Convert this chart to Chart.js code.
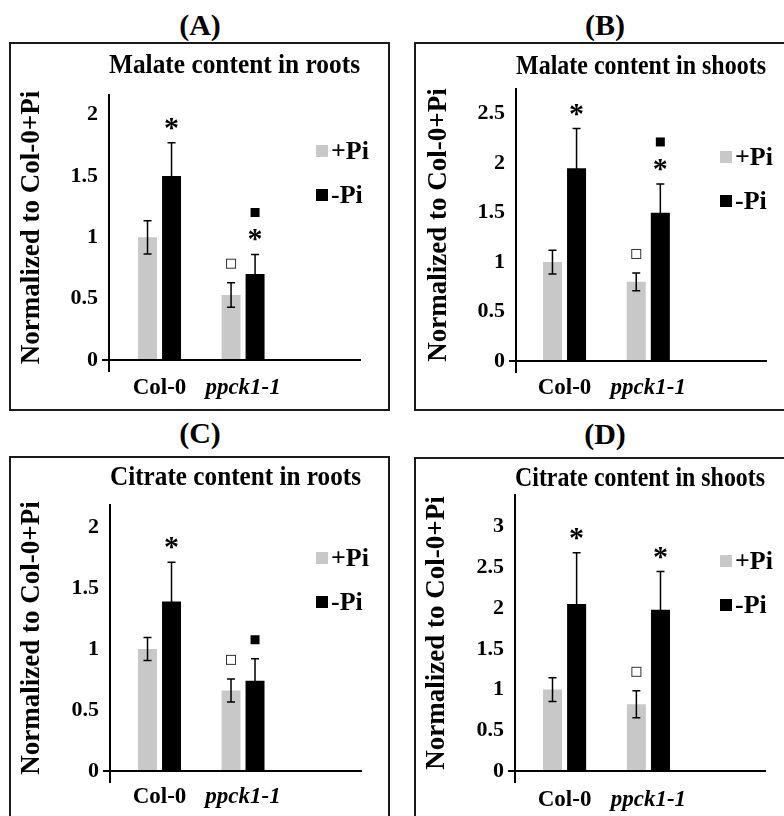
<!DOCTYPE html>
<html>
<head>
<meta charset="utf-8">
<script src="https://cdn.jsdelivr.net/npm/chart.js@4.4.1/dist/chart.umd.min.js"></script>
<style>
body { margin: 0; background: #fff; width: 784px; height: 816px; overflow: hidden; position: relative; font-family: 'Liberation Serif', 'Times New Roman', serif; }
.lbl { position: absolute; width: 120px; text-align: center; font-weight: bold; font-size: 30px; line-height: 30px; color: #000; }
.box { position: absolute; border: 2px solid #1a1a1a; }
canvas { display: block; }
</style>
</head>
<body>
<div class="lbl" style="left:140px;top:10px">(A)</div>
<div class="lbl" style="left:545px;top:10px">(B)</div>
<div class="lbl" style="left:140px;top:418px">(C)</div>
<div class="lbl" style="left:545px;top:419px">(D)</div>
<script>
const categories = ['Col-0', 'ppck1-1'];
const seriesLabels = ['+Pi', '-Pi'];
const yAxisTitle = 'Normalized to Col-0+Pi';
const yTickStep = 0.5;

// (A) malate, roots
const malateRootsPlus = [1.00, 0.53];
const malateRootsPlusErr = [0.135, 0.10];
const malateRootsMinus = [1.50, 0.70];
const malateRootsMinusErr = [0.27, 0.16];
// (B) malate, shoots
const malateShootsPlus = [1.00, 0.80];
const malateShootsPlusErr = [0.12, 0.09];
const malateShootsMinus = [1.95, 1.50];
const malateShootsMinusErr = [0.40, 0.29];
// (C) citrate, roots
const citrateRootsPlus = [1.00, 0.66];
const citrateRootsPlusErr = [0.095, 0.095];
const citrateRootsMinus = [1.39, 0.74];
const citrateRootsMinusErr = [0.32, 0.18];
// (D) citrate, shoots
const citrateShootsPlus = [1.00, 0.82];
const citrateShootsPlusErr = [0.145, 0.165];
const citrateShootsMinus = [2.05, 1.98];
const citrateShootsMinusErr = [0.63, 0.47];

// significance symbols above each bar, listed bottom to top
const malateRootsPlusMarks = [[], ['open']];
const malateRootsMinusMarks = [['star'], ['star', 'filled']];
const malateShootsPlusMarks = [[], ['open']];
const malateShootsMinusMarks = [['star'], ['star', 'filled']];
const citrateRootsPlusMarks = [[], ['open']];
const citrateRootsMinusMarks = [['star'], ['filled']];
const citrateShootsPlusMarks = [[], ['open']];
const citrateShootsMinusMarks = [['star'], ['star']];

const SERIF = "'Liberation Serif', 'Times New Roman', serif";
const plusColor = '#c8c8c8';
const minusColor = '#000000';

const errorBars = {
    id: 'errorBars',
    afterDatasetsDraw(chart) {
        const ctx = chart.ctx;
        const y = chart.scales.y;
        chart.data.datasets.forEach((ds, i) => {
            chart.getDatasetMeta(i).data.forEach((bar, j) => {
                const v = ds.data[j].y, e = ds.errors[j];
                const top = y.getPixelForValue(v + e);
                const bot = y.getPixelForValue(v - e);
                ctx.save();
                ctx.strokeStyle = '#000';
                ctx.lineWidth = 1.5;
                ctx.beginPath();
                ctx.moveTo(bar.x, top); ctx.lineTo(bar.x, bot);
                ctx.moveTo(bar.x - 4, top); ctx.lineTo(bar.x + 4, top);
                ctx.moveTo(bar.x - 4, bot); ctx.lineTo(bar.x + 4, bot);
                ctx.stroke();
                ctx.restore();
            });
        });
    }
};

const sigMarks = {
    id: 'sigMarks',
    afterDatasetsDraw(chart) {
        const ctx = chart.ctx;
        const y = chart.scales.y;
        chart.data.datasets.forEach((ds, i) => {
            chart.getDatasetMeta(i).data.forEach((bar, j) => {
                let cy = y.getPixelForValue(ds.data[j].y + ds.errors[j]) - 19;
                ds.marks[j].forEach(m => {
                    ctx.save();
                    if (m === 'star') {
                        ctx.font = 'bold 30px ' + SERIF;
                        ctx.fillStyle = '#000';
                        ctx.textAlign = 'center';
                        ctx.textBaseline = 'alphabetic';
                        const tm = ctx.measureText('*');
                        ctx.fillText('*', bar.x, cy + (tm.actualBoundingBoxAscent - tm.actualBoundingBoxDescent) / 2);
                    } else if (m === 'filled') {
                        ctx.fillStyle = '#000';
                        ctx.fillRect(bar.x - 4.5, cy - 4.5, 9, 9);
                    } else {
                        ctx.fillStyle = '#fff';
                        ctx.strokeStyle = '#333';
                        ctx.lineWidth = 1;
                        ctx.fillRect(bar.x - 5, cy - 5, 10, 10);
                        ctx.strokeRect(bar.x - 4.5, cy - 4.5, 9, 9);
                    }
                    ctx.restore();
                    cy -= 23;
                });
            });
        });
    }
};

function makePanel(p) {
    const ox = p.box[0] + 2, oy = p.box[1] + 2;
    const W = p.box[2], H = p.box[3];
    const box = document.createElement('div');
    box.className = 'box';
    box.style.cssText = `left:${p.box[0]}px;top:${p.box[1]}px;width:${W}px;height:${H}px`;
    const canvas = document.createElement('canvas');
    canvas.width = W;
    canvas.height = H;
    box.appendChild(canvas);
    document.body.appendChild(box);

    const L = p.area[0] - ox, R = p.area[1] - ox, T = p.area[2] - oy, B = p.area[3] - oy;
    const padLeft = p.yTitleX - ox - 27 * 1.2 / 2;
    const titleTop = p.titleY - oy - 28 / 2;
    const titleBottom = Math.max(0, T - titleTop - 28);

    const legendBox = {
        id: 'legendBox',
        afterDraw(chart) {
            const ctx = chart.ctx;
            chart.data.datasets.forEach((ds, i) => {
                const x = p.legend[0] - ox;
                const cy = p.legend[1] - oy + i * 44;
                ctx.save();
                ctx.fillStyle = ds.backgroundColor;
                ctx.fillRect(x, cy - 6, 12, 12);
                ctx.font = 'bold 26px ' + SERIF;
                ctx.fillStyle = '#000';
                ctx.textBaseline = 'middle';
                ctx.fillText(ds.label, x + 15, cy + 1);
                ctx.restore();
            });
        }
    };

    const axisStub = {
        id: 'axisStub',
        afterDraw(chart) {
            const ctx = chart.ctx, a = chart.chartArea;
            ctx.save();
            ctx.strokeStyle = '#000';
            ctx.lineWidth = 2;
            ctx.beginPath();
            ctx.moveTo(a.left, a.bottom);
            ctx.lineTo(a.left, a.bottom + 12);
            ctx.stroke();
            ctx.restore();
        }
    };

    new Chart(canvas, {
        type: 'bar',
        data: {
            datasets: [
                { label: seriesLabels[0], data: p.plus.map((v, i) => ({ x: i, y: v })), errors: p.plusErr, marks: p.plusMarks, backgroundColor: plusColor },
                { label: seriesLabels[1], data: p.minus.map((v, i) => ({ x: i, y: v })), errors: p.minusErr, marks: p.minusMarks, backgroundColor: minusColor }
            ]
        },
        options: {
            responsive: false,
            animation: false,
            events: [],
            layout: { padding: { left: padLeft, right: W - R, top: 0, bottom: 0 } },
            datasets: { bar: { categoryPercentage: 0.575, barPercentage: 0.79 } },
            scales: {
                x: {
                    type: 'linear',
                    offset: false,
                    bounds: 'data',
                    min: p.xRange[0],
                    max: p.xRange[1],
                    afterBuildTicks: s => { s.ticks = categories.map((c, i) => ({ value: i })); },
                    afterFit: s => { s.height = H - B; },
                    ticks: {
                        autoSkip: false,
                        maxRotation: 0,
                        padding: p.xPad,
                        color: '#000',
                        callback: v => categories[v],
                        font: ctx => ({ family: SERIF, size: 23, weight: 'bold', style: ctx.index === 1 ? 'italic' : 'normal' })
                    },
                    grid: { display: false, drawTicks: false },
                    border: { color: '#000', width: 2 }
                },
                y: {
                    min: 0,
                    max: p.yMax,
                    afterFit: s => { s.width = L - padLeft; },
                    ticks: {
                        stepSize: yTickStep,
                        includeBounds: false,
                        padding: 4,
                        color: '#000',
                        callback: v => String(v),
                        font: { family: SERIF, size: 22, weight: 'bold' }
                    },
                    grid: {
                        drawOnChartArea: false,
                        tickLength: 7,
                        lineWidth: 2,
                        color: ctx => ctx.tick && ctx.tick.value === 0 ? '#000' : 'rgba(0,0,0,0)'
                    },
                    border: { color: '#000', width: 2 },
                    title: {
                        display: true,
                        text: yAxisTitle,
                        color: '#000',
                        padding: 0,
                        font: { family: SERIF, size: 27, weight: 'bold', lineHeight: 1.2 }
                    }
                }
            },
            plugins: {
                legend: { display: false },
                tooltip: { enabled: false },
                title: {
                    display: true,
                    text: p.title,
                    fullSize: false,
                    color: '#000',
                    padding: { top: titleTop, bottom: titleBottom },
                    font: { family: SERIF, size: 28, weight: 'bold', lineHeight: 1 }
                }
            }
        },
        plugins: [errorBars, sigMarks, legendBox, axisStub]
    });
}

makePanel({
    title: 'Malate content in roots',
    box: [9, 42, 377, 365], area: [109, 360, 95, 360], titleY: 66, yTitleX: 32,
    legend: [316, 151], xRange: [-0.605, 2.4], yMax: 2.16, xPad: 14,
    plus: malateRootsPlus, plusErr: malateRootsPlusErr, plusMarks: malateRootsPlusMarks,
    minus: malateRootsMinus, minusErr: malateRootsMinusErr, minusMarks: malateRootsMinusMarks
});
makePanel({
    title: 'Malate content in shoots',
    box: [414, 42, 380, 365], area: [516, 766, 89, 361], titleY: 66.5, yTitleX: 439,
    legend: [720, 157], xRange: [-0.579, 2.405], yMax: 2.75, xPad: 13,
    plus: malateShootsPlus, plusErr: malateShootsPlusErr, plusMarks: malateShootsPlusMarks,
    minus: malateShootsMinus, minusErr: malateShootsMinusErr, minusMarks: malateShootsMinusMarks
});
makePanel({
    title: 'Citrate content in roots',
    box: [9, 456, 377, 365], area: [110, 361, 505, 771], titleY: 478, yTitleX: 32,
    legend: [316, 558], xRange: [-0.593, 2.413], yMax: 2.18, xPad: 12,
    plus: citrateRootsPlus, plusErr: citrateRootsPlusErr, plusMarks: citrateRootsPlusMarks,
    minus: citrateRootsMinus, minusErr: citrateRootsMinusErr, minusMarks: citrateRootsMinusMarks
});
makePanel({
    title: 'Citrate content in shoots',
    box: [414, 457, 380, 365], area: [515, 765, 495, 771], titleY: 479, yTitleX: 437,
    legend: [720, 561], xRange: [-0.591, 2.39], yMax: 3.39, xPad: 15,
    plus: citrateShootsPlus, plusErr: citrateShootsPlusErr, plusMarks: citrateShootsPlusMarks,
    minus: citrateShootsMinus, minusErr: citrateShootsMinusErr, minusMarks: citrateShootsMinusMarks
});
</script>
</body>
</html>
